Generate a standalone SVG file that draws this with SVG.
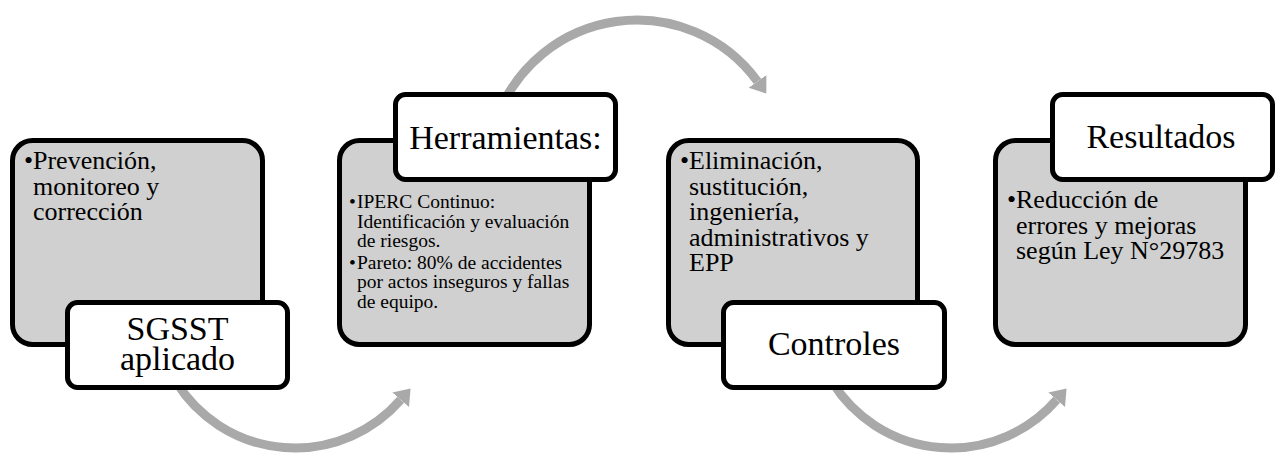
<svg xmlns="http://www.w3.org/2000/svg" width="1277" height="456" viewBox="0 0 1277 456">
  <style>
    .card { fill: #d0d0d0; stroke: #000; stroke-width: 5; }
    .label { fill: #fff; stroke: #000; stroke-width: 5; }
    .body { font-family: "Liberation Serif", "Times New Roman", serif; font-size: 26px; fill: #000; }
    .small { font-family: "Liberation Serif", "Times New Roman", serif; font-size: 19.5px; fill: #000; }
    .title { font-family: "Liberation Serif", "Times New Roman", serif; font-size: 34px; fill: #000; text-anchor: middle; }
    .arc { fill: none; stroke: #a9a9a9; stroke-width: 9; marker-end: url(#head); }
  </style>
  <defs>
    <marker id="head" markerUnits="userSpaceOnUse" markerWidth="20" markerHeight="26" refX="0" refY="13" orient="auto" viewBox="0 0 20 26">
      <path d="M0,2 L15,13 L0,24 Z" fill="#a9a9a9"/>
    </marker>
  </defs>
  <rect width="1277" height="456" fill="#fff"/>

  <g id="connectors">
    <path class="arc" d="M176.3,382.2 A140,140 0 0 0 400.7,399.8"/>
    <path class="arc" d="M497,118 A149,149 0 0 1 757.5,81.4"/>
    <path class="arc" d="M832.3,382.2 A140,140 0 0 0 1056.7,399.8"/>
  </g>

  <g id="step1">
    <rect class="card" x="12.5" y="140.5" width="250" height="204" rx="20"/>
    <text class="body"><tspan x="24" y="169">•</tspan><tspan x="33" y="169">Prevención,</tspan><tspan x="33" y="194.5">monitoreo y</tspan><tspan x="33" y="220">corrección</tspan></text>
    <rect class="label" x="67.5" y="302.5" width="220" height="85" rx="10"/>
    <text class="title"><tspan x="177.5" y="340">SGSST</tspan><tspan x="177.5" y="370">aplicado</tspan></text>
  </g>

  <g id="step2">
    <rect class="card" x="339.5" y="140.5" width="250" height="204" rx="20"/>
    <text class="small"><tspan x="349" y="208">•</tspan><tspan x="357" y="208">IPERC Continuo:</tspan><tspan x="357" y="227.5">Identificación y evaluación</tspan><tspan x="357" y="247">de riesgos.</tspan></text>
    <text class="small"><tspan x="349" y="268.5">•</tspan><tspan x="357" y="268.5">Pareto: 80% de accidentes</tspan><tspan x="357" y="288">por actos inseguros y fallas</tspan><tspan x="357" y="307.5">de equipo.</tspan></text>
    <rect class="label" x="395.5" y="94.5" width="220" height="85" rx="10"/>
    <text class="title" x="505.5" y="149">Herramientas:</text>
  </g>

  <g id="step3">
    <rect class="card" x="668.5" y="140.5" width="249" height="204" rx="20"/>
    <text class="body"><tspan x="680" y="169">•</tspan><tspan x="689" y="169">Eliminación,</tspan><tspan x="689" y="194.5">sustitución,</tspan><tspan x="689" y="220">ingeniería,</tspan><tspan x="689" y="245.5">administrativos y</tspan><tspan x="689" y="271">EPP</tspan></text>
    <rect class="label" x="723.5" y="302.5" width="221" height="85" rx="10"/>
    <text class="title" x="834" y="355">Controles</text>
  </g>

  <g id="step4">
    <rect class="card" x="995.5" y="140.5" width="250" height="204" rx="20"/>
    <text class="body"><tspan x="1007" y="208">•</tspan><tspan x="1016" y="208">Reducción de</tspan><tspan x="1016" y="233.5">errores y mejoras</tspan><tspan x="1016" y="259">según Ley N°29783</tspan></text>
    <rect class="label" x="1052.5" y="94.5" width="220" height="85" rx="10"/>
    <text class="title" x="1161" y="148">Resultados</text>
  </g>
</svg>
